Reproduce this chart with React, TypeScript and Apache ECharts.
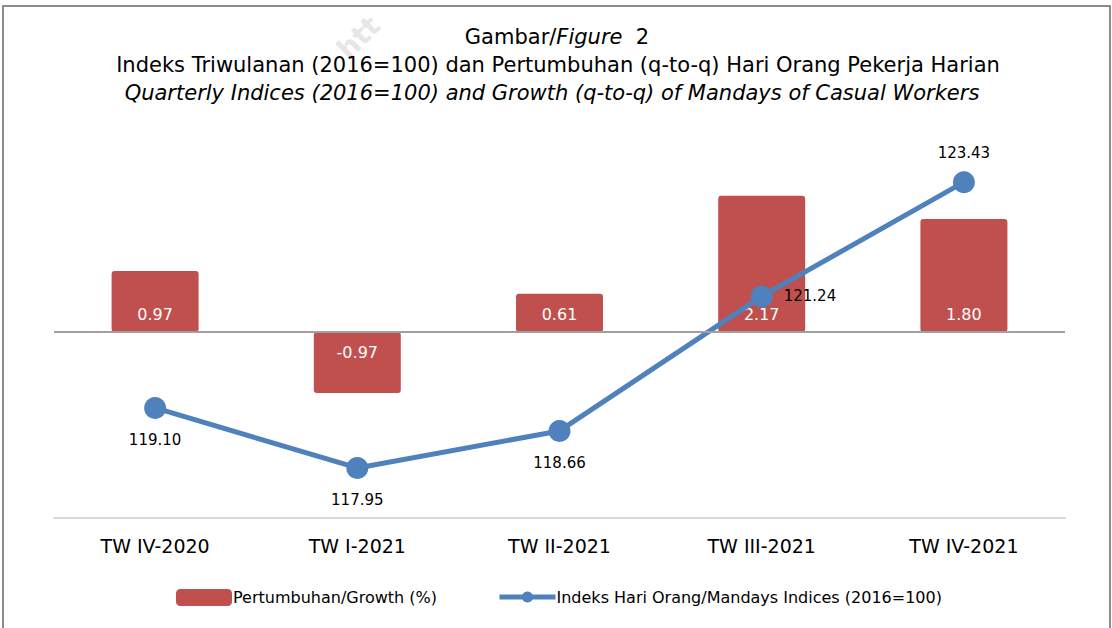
import React, { useEffect, useRef } from "react";
import * as echarts from "echarts";

const categories = ["TW IV-2020", "TW I-2021", "TW II-2021", "TW III-2021", "TW IV-2021"];
const growthValues = [0.97, -0.97, 0.61, 2.17, 1.8];
const indexValues = [119.1, 117.95, 118.66, 121.24, 123.43];
const indexLabelPositions = ["bottom", "bottom", "bottom", "right", "top"];
const growthName = "Pertumbuhan/Growth (%)";
const indexName = "Indeks Hari Orang/Mandays Indices (2016=100)";

const FONT = "'DejaVu Sans', sans-serif";
const RED = "#C0504D";
const BLUE = "#4F81BD";

export default function App() {
  const ref = useRef<HTMLDivElement>(null);
  useEffect(() => {
    if (!ref.current) return;
    const chart = echarts.init(ref.current, undefined, { renderer: "svg" });
    chart.setOption({
      animation: false,
      backgroundColor: "#ffffff",
      textStyle: { fontFamily: FONT },
      grid: { left: 54, right: 47, top: 141, bottom: 110 },
      xAxis: {
        type: "category",
        data: categories,
        axisLine: { onZero: false, lineStyle: { color: "#d9d9d9", width: 2 } },
        axisTick: { show: false },
        axisLabel: { color: "#000", fontSize: 19, fontFamily: FONT, margin: 18 },
      },
      yAxis: [
        { type: "value", min: -2.96, max: 3.04, show: false, splitLine: { show: false } },
        { type: "value", min: 116.99, max: 124.22, show: false, splitLine: { show: false } },
      ],
      legend: [
        {
          data: [growthName],
          left: 171,
          top: 584,
          itemWidth: 56,
          itemHeight: 17,
          textStyle: { color: "#000", fontSize: 16, fontFamily: FONT, padding: [0, 0, 0, -4] },
          itemStyle: { borderRadius: 2 },
        },
        {
          data: [indexName],
          left: 492,
          top: 584,
          itemWidth: 56,
          itemHeight: 14,
          lineStyle: { width: 5 },
          textStyle: { color: "#000", fontSize: 16, fontFamily: FONT, padding: [0, 0, 0, -4] },
        },
      ],
      graphic: [
        {
          type: "rect",
          shape: { x: 3, y: 6, width: 1107, height: 640 },
          style: { fill: "none", stroke: "#8c8c8c", lineWidth: 2 },
          z: 0,
        },
        {
          type: "text",
          x: 352,
          y: 64,
          rotation: (45 * Math.PI) / 180,
          style: {
            text: "htt",
            fill: "#e6e6e6",
            font: "bold 28px 'DejaVu Sans', sans-serif",
            align: "left",
            verticalAlign: "bottom",
          },
          z: 1,
        },
        {
          type: "text",
          x: 557,
          y: 37,
          style: {
            text: "{a|Gambar/}{b|Figure}{a|  2}",
            align: "center",
            verticalAlign: "middle",
            rich: {
              a: { fontSize: 21, fontFamily: FONT, fill: "#000" },
              b: { fontSize: 21, fontFamily: FONT, fontStyle: "italic", fill: "#000" },
            },
          },
          z: 10,
        },
        {
          type: "text",
          x: 558,
          y: 65,
          style: {
            text: "Indeks Triwulanan (2016=100) dan Pertumbuhan (q-to-q) Hari Orang Pekerja Harian",
            align: "center",
            verticalAlign: "middle",
            font: `21px ${FONT}`,
            fill: "#000",
          },
          z: 10,
        },
        {
          type: "text",
          x: 552,
          y: 93,
          style: {
            text: "Quarterly Indices (2016=100) and Growth (q-to-q) of Mandays of Casual Workers",
            align: "center",
            verticalAlign: "middle",
            font: `italic 21px ${FONT}`,
            fill: "#000",
          },
          z: 10,
        },
      ],
      series: [
        {
          name: growthName,
          type: "bar",
          yAxisIndex: 0,
          barWidth: 87,
          itemStyle: { color: RED, borderRadius: 3 },
          data: growthValues.map((v) => ({
            value: v,
            label: {
              position: v >= 0 ? "insideBottom" : "insideTop",
              distance: v >= 0 ? 10 : 12,
            },
          })),
          label: {
            show: true,
            color: "#fff",
            fontSize: 16,
            fontFamily: FONT,
            formatter: (p: any) => Number(p.value).toFixed(2),
          },
          markLine: {
            silent: true,
            symbol: "none",
            label: { show: false },
            lineStyle: { color: "#a0a0a0", width: 2, type: "solid" },
            data: [{ yAxis: 0 }],
          },
          z: 2,
        },
        {
          name: indexName,
          type: "line",
          yAxisIndex: 1,
          symbol: "circle",
          symbolSize: 22,
          lineStyle: { color: BLUE, width: 5 },
          itemStyle: { color: BLUE },
          data: indexValues.map((v, i) => ({
            value: v,
            label: {
              position: indexLabelPositions[i],
              distance: indexLabelPositions[i] === "bottom" ? 14 : 11,
            },
          })),
          label: {
            show: true,
            color: "#000",
            fontSize: 15,
            fontFamily: FONT,
            formatter: (p: any) => Number(p.value).toFixed(2),
          },
          z: 3,
        },
      ],
    });
    return () => chart.dispose();
  }, []);
  return (
    <div
      ref={ref}
      style={{ position: "fixed", left: 0, top: 0, width: 1112, height: 628 }}
    />
  );
}
